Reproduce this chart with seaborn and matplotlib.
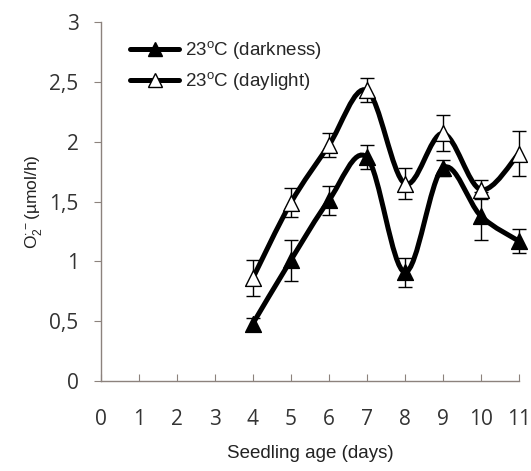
import numpy as np
import matplotlib
matplotlib.use("Agg")
import matplotlib.pyplot as plt
from matplotlib.path import Path
from matplotlib.patches import PathPatch
from matplotlib.ticker import FuncFormatter, MultipleLocator
import seaborn as sns

# data
days = [4, 5, 6, 7, 8, 9, 10, 11]
dark_mean = [0.48, 1.01, 1.51, 1.87, 0.91, 1.78, 1.38, 1.17]
dark_err = [0.05, 0.17, 0.12, 0.10, 0.12, 0.07, 0.20, 0.10]
light_mean = [0.86, 1.49, 1.97, 2.43, 1.65, 2.07, 1.60, 1.90]
light_err = [0.15, 0.12, 0.10, 0.10, 0.13, 0.15, 0.08, 0.19]

sns.set_style("ticks")
plt.rcParams['font.family'] = ['Liberation Sans', 'DejaVu Sans']
plt.rcParams['mathtext.fontset'] = 'custom'
plt.rcParams['mathtext.rm'] = 'Liberation Sans'

axis_col = "#8c827d"

fig = plt.figure(figsize=(5.31, 4.71), dpi=100)
ax = fig.add_axes([0.190, 0.191, 0.787, 0.762])


def smooth_path(x, y):
    # Excel-like smoothed line: Catmull-Rom segments as cubic Bezier curves
    x = np.asarray(x, float)
    y = np.asarray(y, float)
    pts = np.column_stack([x, y])
    verts = [pts[0]]
    codes = [Path.MOVETO]
    n = len(pts)
    for i in range(n - 1):
        p0 = pts[i - 1] if i > 0 else pts[i]
        p1 = pts[i]
        p2 = pts[i + 1]
        p3 = pts[i + 2] if i + 2 < n else pts[i + 1]
        c1 = p1 + (p2 - p0) / 6.0
        c2 = p2 - (p3 - p1) / 6.0
        verts += [c1, c2, p2]
        codes += [Path.CURVE4] * 3
    return Path(verts, codes)


for mean, err, face, lab in [
    (dark_mean, dark_err, "black", "23$^{\\mathrm{o}}$C (darkness)"),
    (light_mean, light_err, "white", "23$^{\\mathrm{o}}$C (daylight)"),
]:
    ax.add_patch(PathPatch(smooth_path(days, mean), facecolor="none",
                           edgecolor="black", lw=3.6, zorder=2, clip_on=False))
    eb = ax.errorbar(days, mean, yerr=err, fmt="none", ecolor="black",
                     elinewidth=1, capsize=5, capthick=1, zorder=3)
    for art in eb.lines[1] + eb.lines[2]:
        art.set_clip_on(False)
    sns.scatterplot(x=days, y=mean, marker="^", s=130, color=face,
                    edgecolor="black", linewidth=1, zorder=4, ax=ax,
                    clip_on=False)
    ax.plot([], [], color="black", lw=3.6, marker="^", markersize=10,
            markerfacecolor=face, markeredgecolor="black", label=lab)

ax.set_xlim(0, 11)
ax.set_ylim(0, 3)
ax.xaxis.set_major_locator(MultipleLocator(1))
ax.yaxis.set_major_locator(MultipleLocator(0.5))
ax.yaxis.set_major_formatter(FuncFormatter(lambda v, p: f"{v:g}".replace(".", ",")))

sns.despine(ax=ax)
for s in ["left", "bottom"]:
    ax.spines[s].set_color(axis_col)
    ax.spines[s].set_linewidth(1)
ax.tick_params(axis="x", direction="in", length=5, color=axis_col, pad=20)
ax.tick_params(axis="y", direction="out", length=5, color=axis_col, pad=11)
ax.tick_params(axis="both", labelsize=15, labelcolor="#333333",
               labelfontfamily="Open Sans")

ax.set_xlabel("Seedling age (days)", fontsize=13.5, labelpad=11, color="#222222")
ax.set_ylabel("O$_2^{\\cdot-}$(µmol/h)", fontsize=12.5, labelpad=4, color="#222222")

leg = ax.legend(loc="upper left", bbox_to_anchor=(0.03, 1.0), frameon=False,
                fontsize=13.5, handlelength=2.6, handletextpad=0.3,
                labelspacing=0.45)

fig.savefig("out.png", dpi=100)
